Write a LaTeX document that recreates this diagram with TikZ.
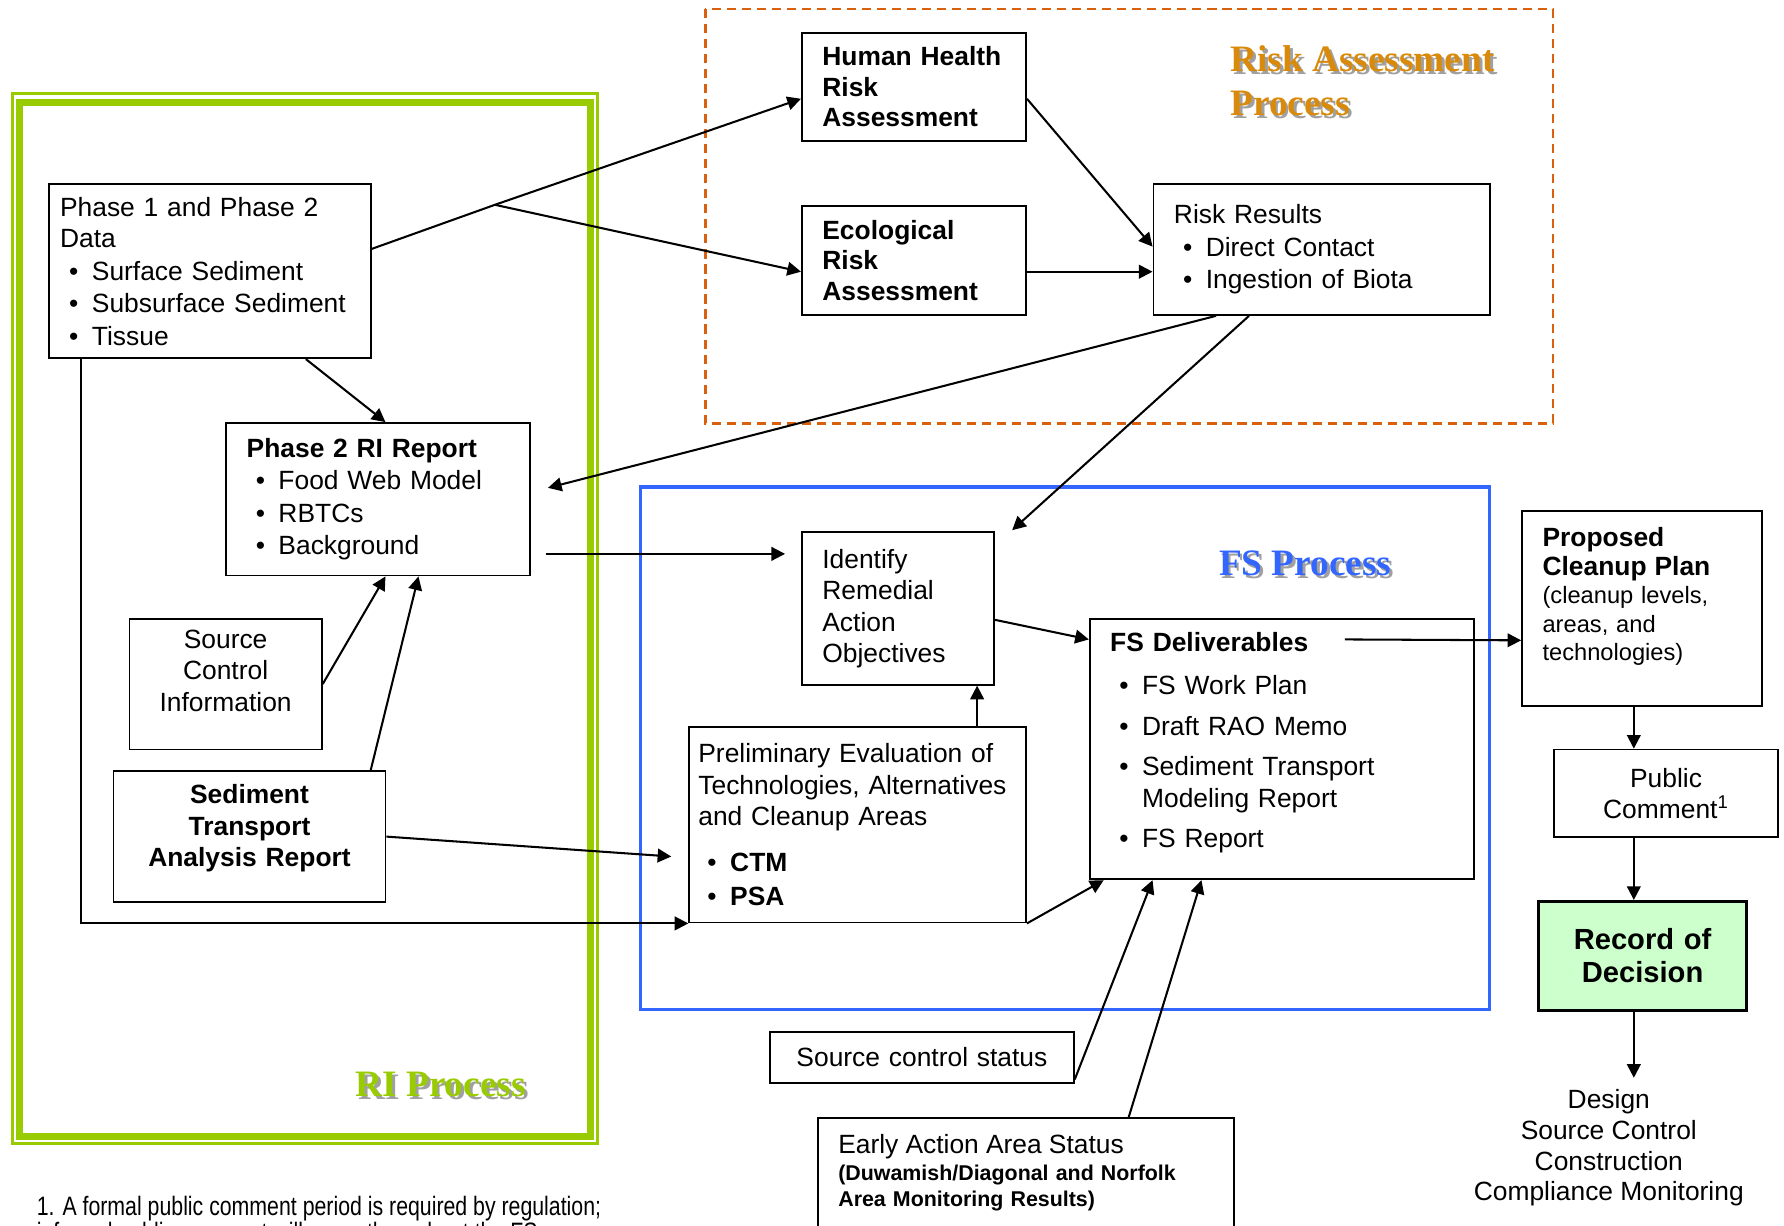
\documentclass[tikz,border=0pt]{standalone}
\usepackage{fontspec}
\setmainfont{Liberation Sans}
\newfontfamily\titleserif{Liberation Serif}
\newfontfamily\narrowsans[FakeStretch=0.8]{Liberation Sans}
\usetikzlibrary{arrows.meta,calc}
\definecolor{riGreen}{HTML}{99CC00}
\definecolor{fsBlue}{HTML}{3366FF}
\definecolor{raOrange}{HTML}{D9600F}
\definecolor{raTitle}{HTML}{D98A0A}
\definecolor{rodGreen}{HTML}{CCFFCC}
\definecolor{shadowGray}{HTML}{A0A0A0}
\newcommand{\bul}{\hspace*{4pt}\makebox[10pt][l]{\textbullet}}

\begin{document}
\begin{tikzpicture}[x=0.5pt, y=-0.5pt,
    box/.style={draw, line width=0.8pt, anchor=north west, align=left, inner xsep=9pt, inner ysep=0pt, font=\fontsize{11.6}{13.8}\selectfont},
    boldbox/.style={box, font=\fontsize{11.6}{13.5}\selectfont\bfseries},
    centerbox/.style={box, align=center, inner xsep=4pt},
    frametitle/.style={anchor=west, align=left, inner sep=0pt, font=\titleserif\bfseries\fontsize{16.4}{19}\selectfont},
    arrow/.style={-{Triangle[length=6pt,width=6pt]}, line width=0.9pt}
]
\useasboundingbox (0,0) rectangle (1568,1077);
\clip (0,0) rectangle (1568,1077);

\draw[riGreen, line width=1.1pt] (11,82) rectangle (525,1005);
\draw[riGreen, line width=2.9pt] (17,90) rectangle (519,999);
\draw[raOrange, line width=1.2pt, dash pattern=on 4pt off 2.6pt] (620,8) rectangle (1365,372);
\draw[fsBlue, line width=1.5pt] (563,428) rectangle (1309,887);

\node[frametitle, shadowGray] (ratitleshadow) at (1083.5,73.5) {Risk Assessment\\Process};
\node[frametitle, raTitle] (ratitle) at (1081,71) {Risk Assessment\\Process};
\node[frametitle, shadowGray] (fstitleshadow) at (1073.5,497.5) {FS Process};
\node[frametitle, fsBlue] (fstitle) at (1071,495) {FS Process};
\node[frametitle, shadowGray] (rititleshadow) at (314.5,955.5) {RI Process};
\node[frametitle, riGreen] (rititle) at (312,953) {RI Process};

\node[boldbox, text width=80.5pt, minimum height=47.5pt] (hhra) at (704,28) {Human Health\\Risk\\Assessment};
\node[boldbox, text width=80.5pt, minimum height=48pt] (era) at (704,180) {Ecological\\Risk\\Assessment};
\node[box, text width=130pt, minimum height=57.5pt] (results) at (1013,161) {Risk Results\\[0.5pt]\bul Direct Contact\\[0.5pt]\bul Ingestion of Biota};
\node[box, inner xsep=5pt, text width=131.5pt, minimum height=76.5pt] (data) at (42,161) {Phase 1 and Phase 2\\Data\\[0.5pt]\bul Surface Sediment\\[0.5pt]\bul Subsurface Sediment\\[0.5pt]\bul Tissue};
\node[box, text width=115.5pt, minimum height=67pt] (rireport) at (198,371) {\textbf{Phase 2 RI Report}\\[0.5pt]\bul Food Web Model\\[0.5pt]\bul RBTCs\\[0.5pt]\bul Background};
\node[centerbox, text width=76.5pt, minimum height=57.5pt] (srcinfo) at (113,543) {Source\\Control\\Information\\[-2pt]\mbox{}};
\node[centerbox, font=\fontsize{11.6}{13.75}\selectfont\bfseries, text width=111.5pt, minimum height=57.5pt] (sedtrans) at (99,677) {Sediment\\Transport\\Analysis Report\\[-4pt]\mbox{}};
\node[box, text width=66.5pt, minimum height=67pt] (rao) at (704,467) {Identify\\Remedial\\Action\\Objectives};
\node[box, inner xsep=4pt, text width=140pt, minimum height=86pt] (prelim) at (605,638) {Preliminary Evaluation of\\Technologies, Alternatives\\and Cleanup Areas\\[6.5pt]\bul\textbf{CTM}\\[1pt]\bul\textbf{PSA}};
\node[box, text width=151pt, minimum height=114.5pt] (deliv) at (957,543) {\textbf{FS Deliverables}\\[5pt]\bul FS Work Plan\\[4pt]\bul Draft RAO Memo\\[4pt]\bul Sediment Transport\\\hspace*{14pt}Modeling Report\\[4pt]\bul FS Report\\[-6pt]\mbox{}};
\node[box, text width=87.5pt, minimum height=86pt, font=\fontsize{10.4}{12.5}\selectfont] (plan) at (1337,448) {{\fontsize{11.6}{12.5}\selectfont\bfseries Proposed}\\{\fontsize{11.6}{12.5}\selectfont\bfseries Cleanup Plan}\\(cleanup levels,\\areas, and\\technologies)\\\mbox{}};
\node[centerbox, text width=90.5pt, minimum height=38.5pt] (public) at (1365,658) {Public\\Comment\textsuperscript{1}};
\node[centerbox, text width=83.5pt, minimum height=48pt, fill=rodGreen, line width=1.2pt, font=\fontsize{12.8}{14.5}\selectfont\bfseries] (rod) at (1351,791) {Record of\\Decision};
\node[align=center, inner sep=5pt, font=\fontsize{11.6}{13.5}\selectfont] (design) at (1414,1009) {Design\\Source Control\\Construction\\Compliance Monitoring};
\node[centerbox, text width=125.5pt, minimum height=22.5pt] (status) at (676,906) {Source control status};
\node[box, text width=165pt, minimum height=65pt, font=\fontsize{9.4}{11.5}\selectfont\bfseries] (early) at (718,982) {{\fontsize{11.6}{11.5}\selectfont\mdseries Early Action Area Status}\\(Duwamish/Diagonal and Norfolk\\Area Monitoring Results)\\[7.5pt]\mbox{}};
\node[anchor=north west, align=left, inner sep=0pt, font=\narrowsans\fontsize{11.7}{11.4}\selectfont] (note) at (32,1051) {1. A formal public comment period is required by regulation;\\informal public comment will occur throughout the FS};

\coordinate (fork) at (435,180);
\coordinate (col) at (1436,0);
\draw[arrow] ($(data.east)+(0,-19.5)$) -- (fork) -- ($(hhra.west)+(0,10.5)$);
\draw[arrow] (fork) -- ($(era.west)+(0,10)$);
\draw[arrow] ($(hhra.east)+(0,10.5)$) -- ($(results.west)+(0,-2.5)$);
\draw[arrow] ($(era.east)+(0,10)$) -- ($(results.west)+(0,19.5)$);
\draw[arrow] ($(results.south)+(-93,0)$) -- ($(rireport.east)+(15,-10)$);
\draw[arrow] ($(results.south)+(-64,0)$) -- ($(rao.north east)+(15,-1)$);
\draw[arrow] ($(data.south)+(84.5,0)$) -- ($(rireport.north)+(6.5,0)$);
\draw[arrow] ($(data.south west)+(29,0)$) |- (prelim.south west);
\draw[arrow] (srcinfo.east) -- ($(rireport.south)+(6.5,0)$);
\draw[arrow] ($(sedtrans.north)+(106.5,0)$) -- ($(rireport.south)+(35.5,0)$);
\draw[arrow] (sedtrans.east) -- ($(prelim.west)+(-15,28)$);
\draw[arrow] ($(rireport.east)+(13,48)$) -- ($(rao.west)+(-14,-48)$);
\draw[arrow] ($(prelim.north)+(105,0)$) -- ($(rao.south)+(69.5,0)$);
\draw[arrow] ($(rao.east)+(0,10)$) -- ($(deliv.north west)+(0,19)$);
\draw[arrow] (prelim.south east) -- ($(deliv.south west)+(13,0)$);
\draw[arrow] ($(deliv.north west)+(225,19)$) -- ($(plan.west)+(0,28)$);
\draw[arrow] (plan.south -| col) -- (public.north -| col);
\draw[arrow] (public.south -| col) -- (rod.north -| col);
\draw[arrow] (rod.south -| col) -- (design.north -| col);
\draw[arrow] ($(status.east)+(0,19.5)$) -- ($(deliv.south west)+(56,0)$);
\draw[arrow] ($(early.north west)+(274,0)$) -- ($(deliv.south west)+(99,0)$);
\end{tikzpicture}
\end{document}
